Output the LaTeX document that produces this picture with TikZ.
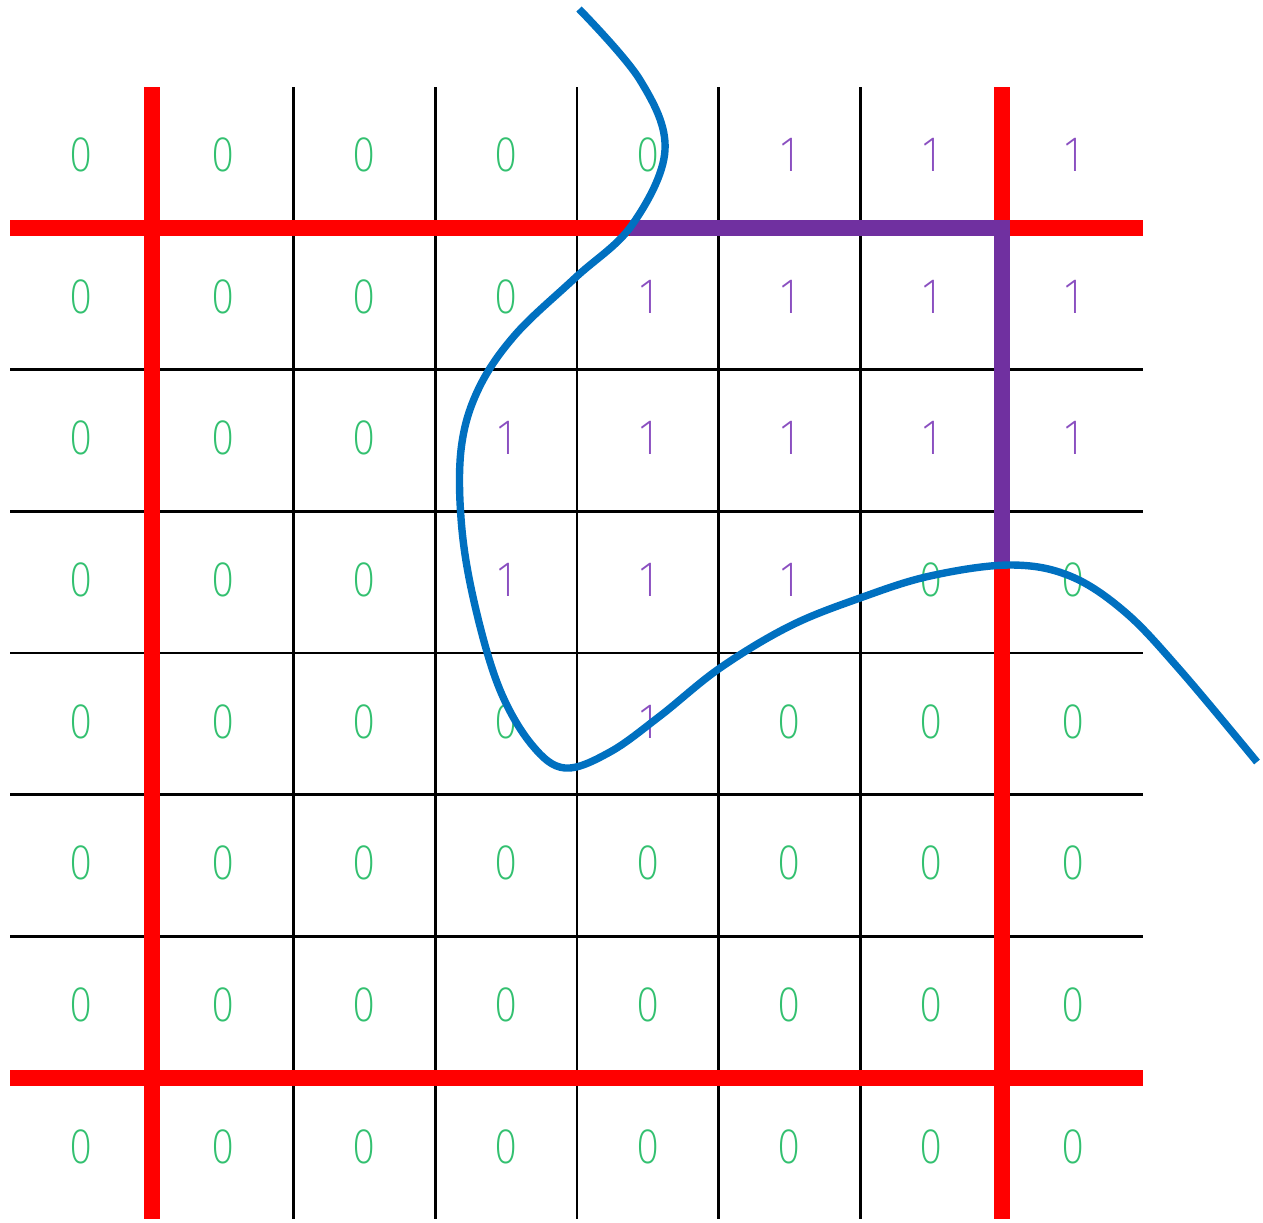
\documentclass[tikz,border=0pt]{standalone}
\usepackage{fontspec}
\newfontfamily\bitfont{Fira Sans ExtraLight}
\usetikzlibrary{calc}

\definecolor{gridred}{HTML}{FF0000}
\definecolor{curveblue}{HTML}{0070C0}
\definecolor{edgepurple}{HTML}{7030A0}
\definecolor{zerogreen}{HTML}{33C070}
\definecolor{onepurple}{HTML}{8A4FC0}

\begin{document}
\begin{tikzpicture}[
  x=0.5pt, y=-0.5pt,
  thin line/.style={draw=black, line width=1.2pt},
  red line/.style={draw=gridred, line width=8pt},
  edge/.style={draw=edgepurple, line width=8pt, line join=miter},
  curve/.style={draw=curveblue, line width=3.7pt},
  bit/.style={font=\bitfont\fontsize{25}{25}\selectfont, inner sep=0pt,
              xscale=0.85},
  bit0/.style={bit, text=zerogreen},
  bit1/.style={bit, text=onepurple},
]
\useasboundingbox (0,0) rectangle (1263,1222);

% thin grid
\foreach \k in {1,...,5} {
  \draw[thin line] (152+141.67*\k,87) -- (152+141.67*\k,1219);
  \draw[thin line] (10,228+141.67*\k) -- (1143,228+141.67*\k);
}

% cell values
\foreach \row [count=\r from 0] in {
  {0,0,0,0,0,1,1,1},
  {0,0,0,0,1,1,1,1},
  {0,0,0,1,1,1,1,1},
  {0,0,0,1,1,1,0,0},
  {0,0,0,0,1,0,0,0},
  {0,0,0,0,0,0,0,0},
  {0,0,0,0,0,0,0,0},
  {0,0,0,0,0,0,0,0}} {
  \foreach \v [count=\c from 0] in \row {
    \node[bit\v] (d-\r-\c) at (81+141.67*\c,155+141.67*\r) {\v};
  }
}

% red boundary lines
\draw[red line] (152,87) -- (152,1219);
\draw[red line] (1002,87) -- (1002,1219);
\draw[red line] (10,228) -- (1143,228);
\draw[red line] (10,1078) -- (1143,1078);

% traced edge
\coordinate (e-start)  at (630,228);
\coordinate (e-corner) at (1002,228);
\coordinate (e-end)    at (1002,563);
\draw[edge] (e-start) -- (e-corner) -- (e-end);

% contour
\draw[curve] plot[smooth, tension=0.6] coordinates {
  (579,9) (640,80) (665,150) (632,225) (575,278) (515,335) (478,390)
  (461,450) (462,530) (476,610) (500,690) (532,745) (565,768)
  (610,752) (660,716) (720,668) (790,626) (860,598) (930,576)
  (1010,565) (1070,576) (1125,612) (1180,670) (1257,762)};

\end{tikzpicture}
\end{document}
